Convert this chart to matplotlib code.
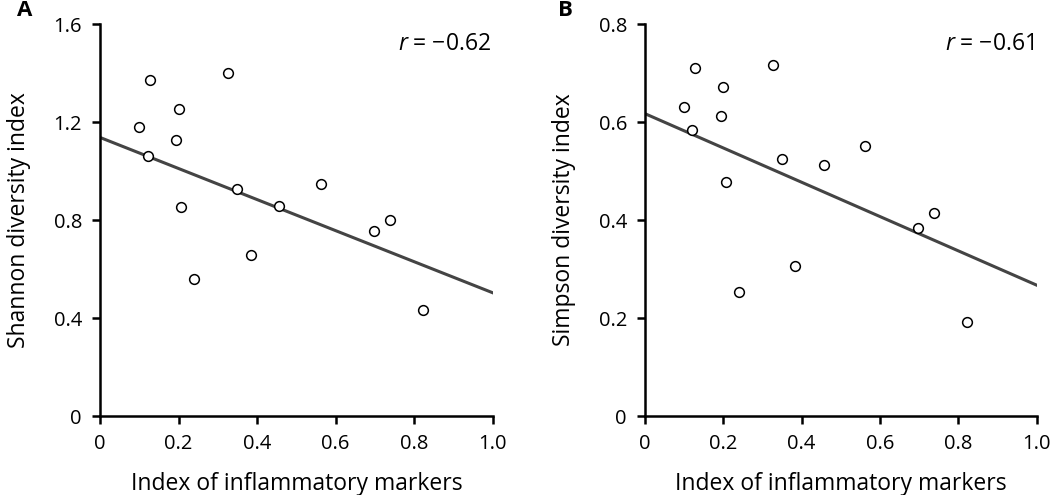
import matplotlib
matplotlib.use("Agg")
import matplotlib.pyplot as plt
import numpy as np

plt.rcParams['font.family'] = ['Open Sans', 'DejaVu Sans']
plt.rcParams['mathtext.fontset'] = 'custom'
plt.rcParams['mathtext.it'] = 'Open Sans:italic'
plt.rcParams['mathtext.rm'] = 'Open Sans'

x_vals = [0.100, 0.127, 0.121, 0.200, 0.194, 0.206, 0.239, 0.326, 0.350, 0.384, 0.457, 0.562, 0.697, 0.738, 0.822]
shannon = [1.181, 1.371, 1.062, 1.254, 1.127, 0.852, 0.558, 1.401, 0.928, 0.658, 0.856, 0.947, 0.755, 0.799, 0.433]
simpson = [0.630, 0.710, 0.583, 0.672, 0.612, 0.477, 0.253, 0.716, 0.524, 0.307, 0.512, 0.552, 0.384, 0.414, 0.192]

shannon_fit = [1.137, 0.503]
simpson_fit = [0.617, 0.267]
fit_x = [0.0, 1.0]

x_ticks = [0, 0.2, 0.4, 0.6, 0.8, 1.0]
x_ticklabels = ['0', '0.2', '0.4', '0.6', '0.8', '1.0']
shannon_ticks = [0, 0.4, 0.8, 1.2, 1.6]
shannon_ticklabels = ['0', '0.4', '0.8', '1.2', '1.6']
simpson_ticks = [0, 0.2, 0.4, 0.6, 0.8]
simpson_ticklabels = ['0', '0.2', '0.4', '0.6', '0.8']

fig = plt.figure(figsize=(10.5, 4.95), dpi=100)
W, H = 1050, 495

def make_ax(left_px, right_px, ys, fit, yticks, ylabels, ylabel, rtext, panel, panel_x):
    ax = fig.add_axes([left_px / W, 1 - 416 / H, (right_px - left_px) / W, (416 - 24) / H])
    ax.plot(fit_x, fit, color='#444444', lw=2.2, zorder=2)
    ax.plot(x_vals, ys, 'o', ms=7, mfc='white', mec='black', mew=1.1, zorder=3, clip_on=False)
    ax.set_xlim(0, 1.0)
    ax.set_ylim(yticks[0], yticks[-1])
    ax.set_xticks(x_ticks)
    ax.set_xticklabels(x_ticklabels)
    ax.set_yticks(yticks)
    ax.set_yticklabels(ylabels)
    for s in ['top', 'right']:
        ax.spines[s].set_visible(False)
    for s in ['left', 'bottom']:
        ax.spines[s].set_linewidth(1.8)
    ax.tick_params(direction='out', length=6, width=1.8, labelsize=14.5, pad=7)
    ax.set_xlabel('Index of inflammatory markers', fontsize=16.5, labelpad=13)
    ax.set_ylabel(ylabel, fontsize=16.5, labelpad=16)
    ax.text(0.995, 0.95, rtext, transform=ax.transAxes, ha='right', va='center', fontsize=16.5)
    fig.text(panel_x / W, 1 - 11 / H, panel, fontsize=16, fontweight='bold', ha='left', va='center')
    return ax

make_ax(100, 492.7, shannon, shannon_fit, shannon_ticks, shannon_ticklabels,
        'Shannon diversity index', '$r$ = \u22120.62', 'A', 17)
make_ax(645, 1036.7, simpson, simpson_fit, simpson_ticks, simpson_ticklabels,
        'Simpson diversity index', '$r$ = \u22120.61', 'B', 558)

fig.savefig('out.png', dpi=100)
